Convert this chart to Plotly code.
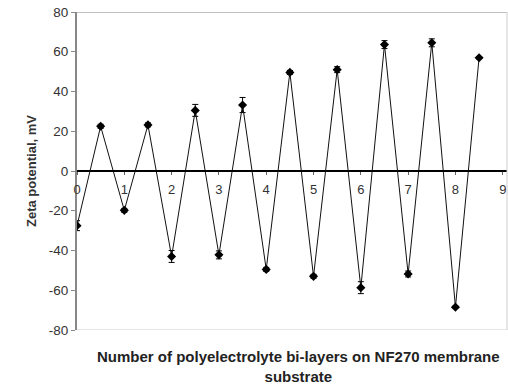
import plotly.graph_objects as go

layers = [0, 0.5, 1, 1.5, 2, 2.5, 3, 3.5, 4, 4.5, 5, 5.5, 6, 6.5, 7, 7.5, 8, 8.5]
zeta = [-27.5, 22.5, -19.8, 23.2, -43, 30.5, -42.2, 33.2, -49.5, 49.6,
        -53, 51, -58.7, 63.6, -51.8, 64.5, -68.5, 57]
err = [2.5, 1, 1, 1, 3, 3, 2, 3.8, 1, 1, 1, 1.5, 3, 2, 1.5, 2, 0.5, 0.5]
xticks = list(range(0, 10))
yticks = [-80, -60, -40, -20, 0, 20, 40, 60, 80]
ytick_text = ["-80", "-60", "-40", "-20", "0", "20", "40", "60", "80"]

font = "Liberation Sans, Arial, sans-serif"

fig = go.Figure()
fig.add_trace(go.Scatter(
    x=layers, y=zeta, mode="lines+markers",
    line=dict(color="#111", width=1),
    marker=dict(symbol="diamond", size=7, color="black"),
    error_y=dict(type="data", array=err, visible=True, color="black",
                 thickness=1, width=3),
    showlegend=False,
))

fig.update_layout(
    width=508, height=385,
    margin=dict(l=77, r=1, t=12, b=55),
    paper_bgcolor="white", plot_bgcolor="white",
    font=dict(family=font, size=13, color="#333"),
    xaxis=dict(
        range=[0, 9.09], tickvals=xticks, ticktext=[str(v) for v in xticks],
        anchor="free", position=0.5, showline=True, linecolor="black",
        linewidth=1.5, ticks="outside", ticklen=3, tickcolor="#666",
        ticklabelstandoff=4, ticklabeloverflow="allow", automargin=False,
        showgrid=False, zeroline=False, tickfont=dict(size=13, color="#333"),
    ),
    yaxis=dict(
        range=[-80, 80], tickvals=yticks, ticktext=ytick_text, showline=True,
        linecolor="#888", linewidth=2, ticks="outside", ticklen=4,
        tickcolor="#888", showgrid=False, zeroline=False, automargin=False,
        tickfont=dict(size=13.5, color="#333"),
        title=dict(text="<b>Zeta potential, mV</b>", standoff=9,
                   font=dict(size=13, color="#333")),
    ),
    shapes=[
        dict(type="line", xref="paper", yref="y", x0=0, x1=1, y0=80, y1=80,
             line=dict(color="#aaa", width=1.5)),
        dict(type="line", xref="paper", yref="y", x0=0, x1=1, y0=-80, y1=-80,
             line=dict(color="#ccc", width=1)),
        dict(type="line", xref="paper", yref="y", x0=1, x1=1, y0=-80, y1=80,
             line=dict(color="#ccc", width=1)),
    ],
    annotations=[
        dict(text="<b>Number of polyelectrolyte bi-layers on NF270 membrane<br>substrate</b>",
             xref="paper", yref="paper", x=0.514, y=-0.05, xanchor="center",
             yanchor="top", showarrow=False, align="center",
             font=dict(size=15, color="#222")),
    ],
)

fig.write_html("out.html")
